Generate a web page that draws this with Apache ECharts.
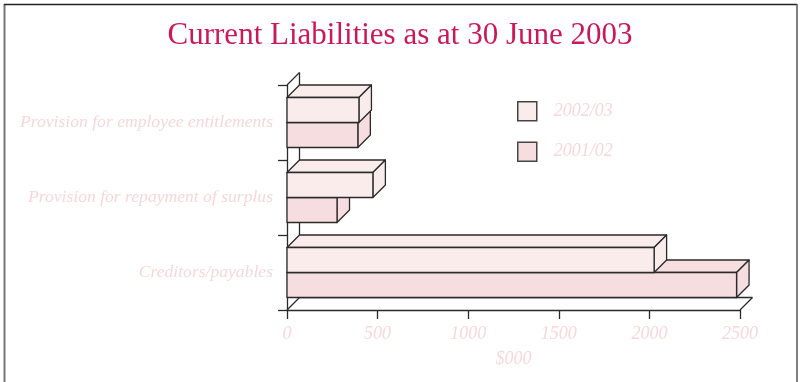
<!DOCTYPE html>
<html>
<head>
<meta charset="utf-8">
<script src="https://cdn.jsdelivr.net/npm/echarts@6/dist/echarts.min.js"></script>
<style>html,body{margin:0;padding:0;background:#fff;}#c{width:800px;height:382px;}</style>
</head>
<body>
<div id="c"></div>
<script>
const categories = ['Provision for employee entitlements', 'Provision for repayment of surplus', 'Creditors/payables'];
const seriesNames = ['2002/03', '2001/02'];
const values0203 = [397, 474, 2026];
const values0102 = [391, 276, 2481];
const xTicks = [0, 500, 1000, 1500, 2000, 2500];

const D = 12.5;
const colors = { '2002/03': '#fbecec', '2001/02': '#f6dddf' };
const edge = '#2a2a2a';
const lightText = '#f6d8db';
const serif = 'Liberation Serif';

function barRender(slot, color) {
  return function (params, api) {
    const v = api.value(0), ci = api.value(1);
    const c0 = api.coord([0, ci]);
    const c1 = api.coord([v, ci]);
    const band = api.size([0, 1])[1];
    const bandTop = c0[1] - band / 2;
    const h = (band - 2 * D) / 2;
    const yT = bandTop + D + slot * h;
    const x0 = c0[0], x1 = c1[0];
    const st = { fill: color, stroke: edge, lineWidth: 1.3, lineJoin: 'round' };
    return {
      type: 'group',
      children: [
        { type: 'polygon', shape: { points: [[x0, yT], [x0 + D, yT - D], [x1 + D, yT - D], [x1, yT]] }, style: st },
        { type: 'polygon', shape: { points: [[x1, yT], [x1 + D, yT - D], [x1 + D, yT + h - D], [x1, yT + h]] }, style: st },
        { type: 'rect', shape: { x: x0, y: yT, width: x1 - x0, height: h }, style: st }
      ]
    };
  };
}

function frameRender(params, api) {
  const cs = params.coordSys;
  const x0 = cs.x, yTop = cs.y, yBot = cs.y + cs.height;
  const xEnd = api.coord([xTicks[xTicks.length - 1], 0])[0];
  const ls = { stroke: edge, lineWidth: 1.3, fill: null };
  return {
    type: 'group',
    children: [
      { type: 'line', shape: { x1: x0, y1: yTop, x2: x0 + D, y2: yTop - D }, style: ls },
      { type: 'line', shape: { x1: x0 + D, y1: yTop - D, x2: x0 + D, y2: yBot - D }, style: ls },
      { type: 'line', shape: { x1: x0, y1: yBot, x2: x0 + D, y2: yBot - D }, style: ls },
      { type: 'line', shape: { x1: x0 + D, y1: yBot - D, x2: xEnd + D, y2: yBot - D }, style: ls },
      { type: 'line', shape: { x1: xEnd, y1: yBot, x2: xEnd + D, y2: yBot - D }, style: ls }
    ]
  };
}

const chart = echarts.init(document.getElementById('c'), null, { renderer: 'canvas' });
chart.setOption({
  animation: false,
  backgroundColor: '#fff',
  title: {
    text: 'Current Liabilities as at 30 June 2003',
    left: 'center', top: 15,
    textStyle: { fontFamily: serif, fontSize: 31, fontWeight: 'normal', color: '#c81a58' }
  },
  legend: {
    orient: 'vertical', left: 517, top: 101, padding: 0,
    itemWidth: 19, itemHeight: 19, itemGap: 20, icon: 'rect',
    data: [
      { name: '2002/03', itemStyle: { color: colors['2002/03'], borderColor: '#444', borderWidth: 1.5 } },
      { name: '2001/02', itemStyle: { color: colors['2001/02'], borderColor: '#444', borderWidth: 1.5 } }
    ],
    textStyle: { fontFamily: serif, fontStyle: 'italic', fontSize: 18, color: lightText, padding: [0, 0, 0, 12] }
  },
  graphic: [
    { type: 'line', shape: { x1: 4.5, y1: 4, x2: 4.5, y2: 382 }, style: { stroke: '#777', lineWidth: 2 } },
    { type: 'line', shape: { x1: 4, y1: 4.5, x2: 797, y2: 4.5 }, style: { stroke: '#222', lineWidth: 1.5 } },
    { type: 'line', shape: { x1: 797, y1: 4, x2: 797, y2: 382 }, style: { stroke: '#555', lineWidth: 1.5 } }
  ],
  grid: { left: 287, right: 60, top: 85, bottom: 72 },
  xAxis: {
    type: 'value', min: 0, max: 2500, interval: 500,
    name: '$000', nameLocation: 'middle', nameGap: 40,
    nameTextStyle: { fontFamily: serif, fontStyle: 'italic', fontSize: 18, color: lightText },
    axisLine: { show: true, lineStyle: { color: edge, width: 1.3 } },
    axisTick: { show: true, length: 9, lineStyle: { color: edge, width: 1.3 } },
    axisLabel: { margin: 15, fontFamily: serif, fontStyle: 'italic', fontSize: 18, color: lightText,
      formatter: function (v) { return String(v); } },
    splitLine: { show: false }
  },
  yAxis: {
    type: 'category', data: categories, inverse: true,
    axisLine: { show: true, lineStyle: { color: edge, width: 1.3 } },
    axisTick: { show: true, length: 9, lineStyle: { color: edge, width: 1.3 } },
    axisLabel: { margin: 14, fontFamily: serif, fontStyle: 'italic', fontSize: 17.6, color: lightText }
  },
  series: [
    { type: 'custom', name: 'frame', renderItem: frameRender, data: [[0, 0]], encode: { x: 0, y: 1 }, silent: true, z: 1 },
    { type: 'custom', name: '2001/02', renderItem: barRender(1, colors['2001/02']), itemStyle: { color: colors['2001/02'] },
      data: values0102.map((v, i) => [v, i]), encode: { x: 0, y: 1 }, z: 2 },
    { type: 'custom', name: '2002/03', renderItem: barRender(0, colors['2002/03']), itemStyle: { color: colors['2002/03'] },
      data: values0203.map((v, i) => [v, i]), encode: { x: 0, y: 1 }, z: 3 }
  ]
});
</script>
</body>
</html>
